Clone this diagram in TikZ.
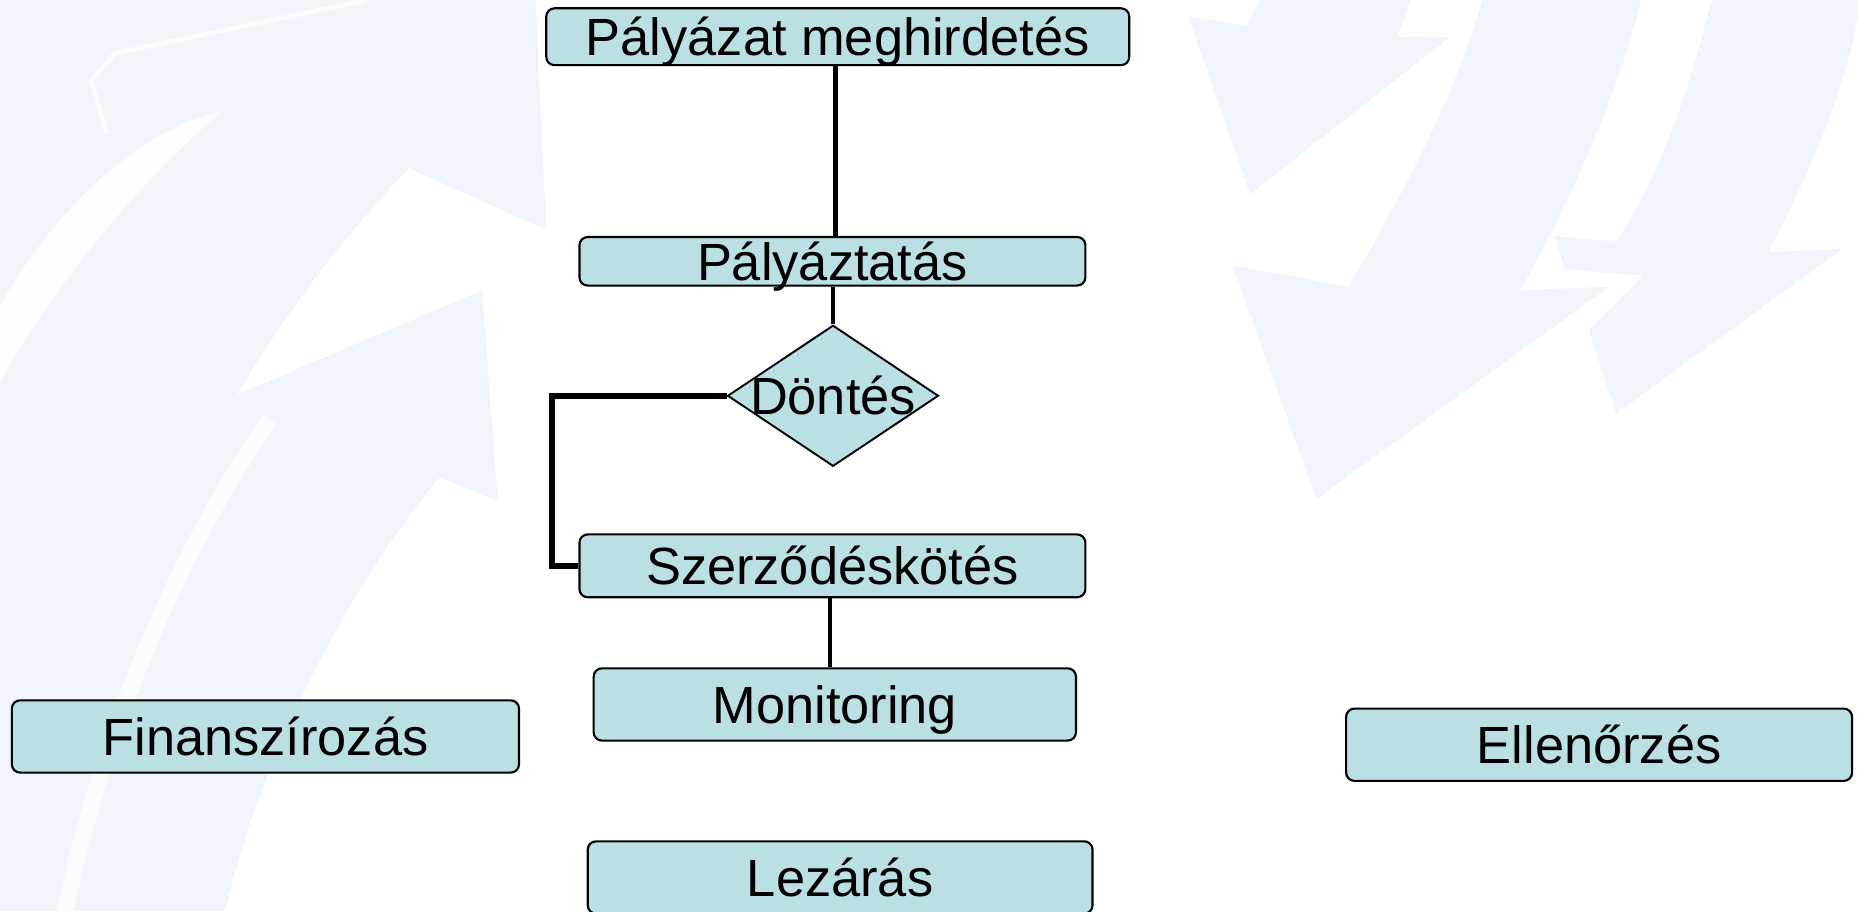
\documentclass[tikz,border=0pt]{standalone}
\usepackage{fontspec}
\setmainfont{Liberation Sans}
\usetikzlibrary{shapes.geometric}
\definecolor{boxfill}{HTML}{BBE0E3}
\definecolor{bgpale}{RGB}{239,245,251}
\begin{document}
\begin{tikzpicture}[x=1pt,y=-1pt,
  lbl/.style={font=\fontsize{44.2}{50}\selectfont, text height=31.6pt, text depth=0pt},
  flowbox/.style={lbl, draw=black, line width=1.8pt, fill=boxfill, rounded corners=7pt, inner sep=0pt, minimum width=427pt, minimum height=61pt},
  decision/.style={diamond, draw=black, line width=1.6pt, fill=boxfill, minimum width=178pt, minimum height=119pt, inner sep=0pt},
  link/.style={line width=3.8pt, black},
  elbow/.style={line width=5pt, black},
  bgshape/.style={fill=bgpale, draw=none},
  gap/.style={draw=white, line join=round}]
\useasboundingbox (0,0) rectangle (1568,769);
\clip (0,0) rectangle (1568,769);
\fill[white] (0,0) rectangle (1568,769);
% background, left
\fill[bgshape] (0,0) -- (452,0) -- (461,194) -- (345,142)
  .. controls (290,200) and (240,265) .. (200,333) -- (407,245) -- (420,423) -- (371,403)
  .. controls (290,500) and (220,640) .. (190,769) -- (0,769) -- cycle;
\fill[white, opacity=0.8] (187,94) .. controls (120,110) and (50,170) .. (0,258) -- (0,323)
  .. controls (40,250) and (110,160) .. (187,94) -- cycle;
\draw[gap, line width=4pt, opacity=0.75] (90,113) -- (77,68) -- (97,45) -- (310,0);
\draw[gap, line width=14pt, opacity=0.75] (228,354) .. controls (160,450) and (90,600) .. (55,769);
% background, right
\fill[bgshape] (1003,14) -- (1052,22) -- (1063,0) -- (1191,0) -- (1179,31) -- (1224,31) -- (1055,164) -- cycle;
\fill[bgshape] (1251,0) .. controls (1225,90) and (1180,170) .. (1138,242) -- (1040,224) -- (1111,421)
  -- (1358,242) -- (1283,245) .. controls (1330,160) and (1365,80) .. (1385,0) -- cycle;
\fill[bgshape] (1444,0) .. controls (1425,80) and (1400,150) .. (1364,204) -- (1312,199) -- (1320,227)
  -- (1387,233) -- (1341,279) -- (1364,349) -- (1555,210) -- (1492,213)
  .. controls (1530,140) and (1560,70) .. (1570,0) -- cycle;
% flow
\node[flowbox, minimum width=492pt, minimum height=48pt] (PM) at (707,31) {Pályázat meghirdetés};
\node[flowbox, minimum height=41pt] (Pt) at (702.5,220.5) {Pályáztatás};
\node[decision, label={[lbl]center:Döntés}] (D) at (703,334) {};
\node[flowbox, minimum height=53pt] (Sz) at (702.5,477.5) {Szerződéskötés};
\node[flowbox, minimum width=407pt] (Mon) at (704.5,594.5) {Monitoring};
\node[flowbox, minimum width=428pt] (Fin) at (224,621.5) {Finanszírozás};
\node[flowbox] (Ell) at (1349.5,628.5) {Ellenőrzés};
\node[flowbox, minimum width=426pt] (Lez) at (709,740.5) {Lezárás};
\draw[link] ([xshift=-2pt]PM.south) -- ([xshift=-2pt]PM.south |- Pt.north);
\draw[link] (Pt.south -| D.north) -- (D.north);
\draw[elbow] (D.west) -- ++(-147,0) |- (Sz.west);
\draw[link] ([xshift=-2pt]Sz.south) -- ([xshift=-2pt]Sz.south |- Mon.north);
\end{tikzpicture}
\end{document}
